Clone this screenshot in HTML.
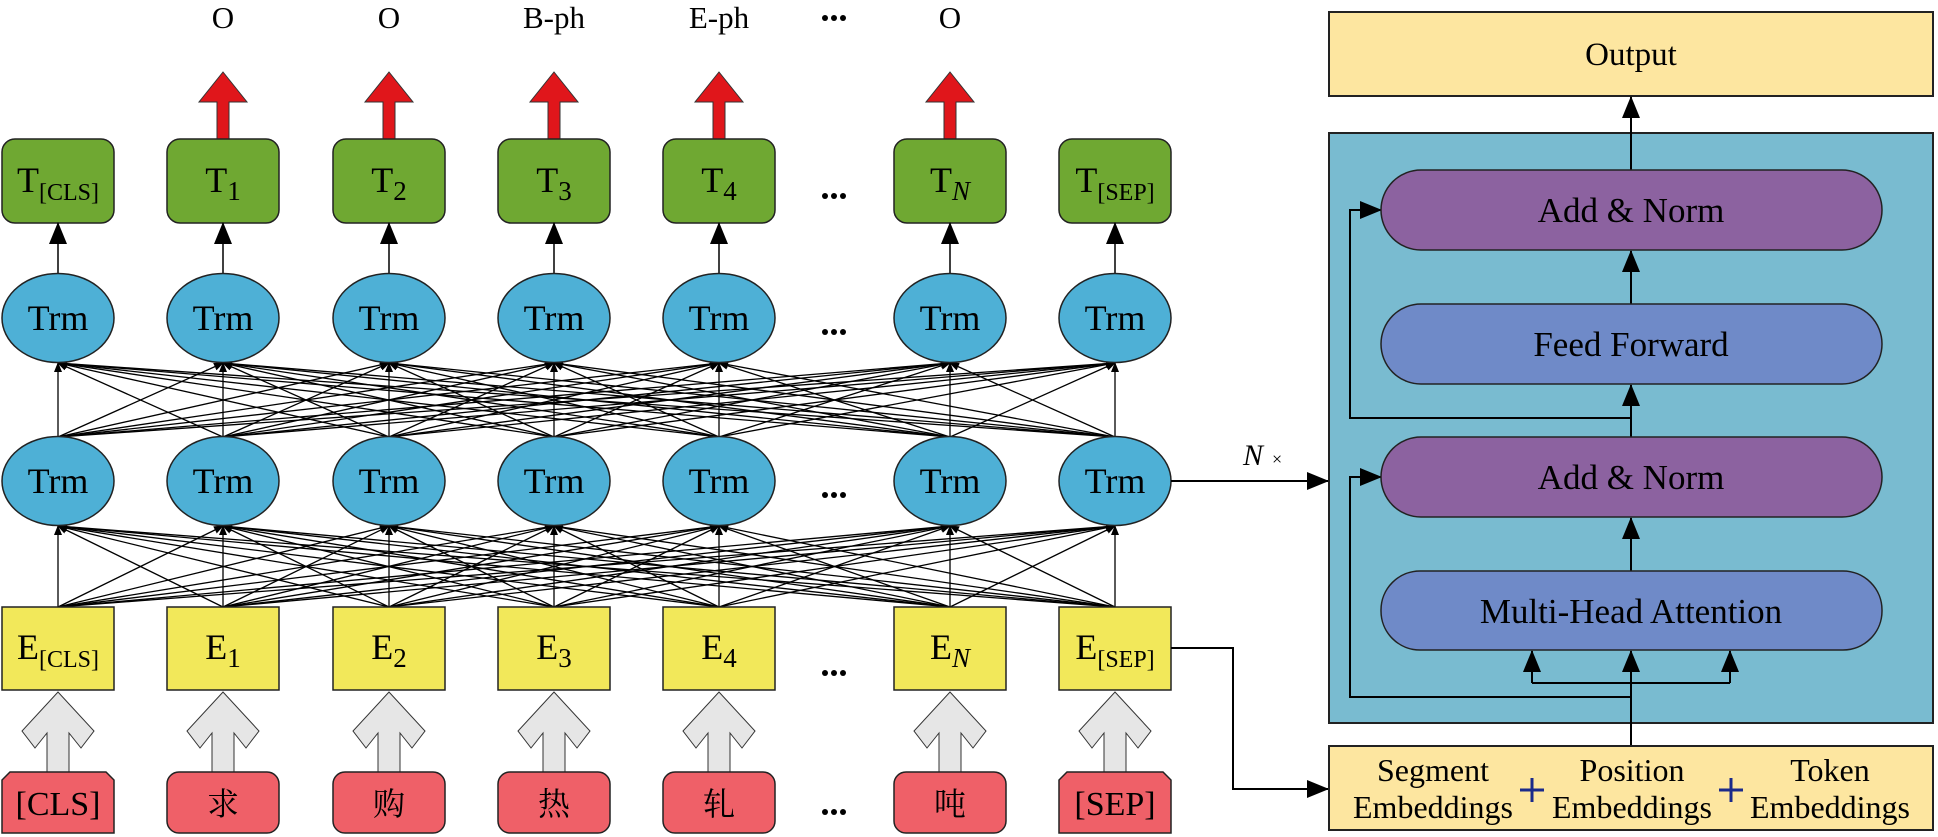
<!DOCTYPE html>
<html><head><meta charset="utf-8"><style>
html,body{margin:0;padding:0;background:#fff;}
svg{display:block;font-family:"Liberation Serif","Noto Serif CJK SC",serif;}
</style></head><body>
<svg id="s" width="1938" height="837" viewBox="0 0 1938 837" xmlns="http://www.w3.org/2000/svg">
<defs>
<marker id="ah" markerWidth="10" markerHeight="10" refX="9" refY="5" orient="auto" markerUnits="userSpaceOnUse"><path d="M0,1 L10,5 L0,9 z" fill="#000"/></marker>
<marker id="ab" markerWidth="22" markerHeight="18" refX="21" refY="9" orient="auto" markerUnits="userSpaceOnUse"><path d="M0,0 L22,9 L0,18 z" fill="#000"/></marker>
</defs>
<g id="lines" stroke="#000" stroke-width="1.3" fill="none"></g>
<g id="nodes"></g>

<rect x="1329" y="12" width="604" height="84" fill="#fde6a0" stroke="#222" stroke-width="2"/>
<text x="1631" y="65" font-size="33" text-anchor="middle">Output</text>
<rect x="1329" y="133" width="604" height="590" fill="#79bbd0" stroke="#222" stroke-width="2"/>
<g stroke="#000" stroke-width="2" fill="none">
<line x1="1631" y1="170" x2="1631" y2="97" marker-end="url(#ab)"/>
<line x1="1631" y1="304" x2="1631" y2="251" marker-end="url(#ab)"/>
<line x1="1631" y1="437" x2="1631" y2="385" marker-end="url(#ab)"/>
<line x1="1631" y1="571" x2="1631" y2="518" marker-end="url(#ab)"/>
<line x1="1631" y1="746" x2="1631" y2="651" marker-end="url(#ab)"/>
<polyline points="1631,418 1350,418 1350,210 1381,210" marker-end="url(#ab)"/>
<polyline points="1631,697 1350,697 1350,477 1381,477" marker-end="url(#ab)"/>
<polyline points="1532,683 1730,683"/>
<line x1="1532" y1="683" x2="1532" y2="651" marker-end="url(#ab)"/>
<line x1="1730" y1="683" x2="1730" y2="651" marker-end="url(#ab)"/>
<line x1="1171" y1="481" x2="1328" y2="481" marker-end="url(#ab)"/>
<polyline points="1171,648 1233,648 1233,789 1328,789" marker-end="url(#ab)"/>
</g>
<rect x="1381" y="170" width="501" height="80" rx="40" fill="#8c62a0" stroke="#222" stroke-width="1.5"/>
<text x="1631" y="222" font-size="35" text-anchor="middle">Add &amp; Norm</text>
<rect x="1381" y="304" width="501" height="80" rx="40" fill="#6f8ac8" stroke="#222" stroke-width="1.5"/>
<text x="1631" y="356" font-size="35" text-anchor="middle">Feed Forward</text>
<rect x="1381" y="437" width="501" height="80" rx="40" fill="#8c62a0" stroke="#222" stroke-width="1.5"/>
<text x="1631" y="489" font-size="35" text-anchor="middle">Add &amp; Norm</text>
<rect x="1381" y="571" width="501" height="79" rx="39" fill="#6f8ac8" stroke="#222" stroke-width="1.5"/>
<text x="1631" y="623" font-size="35" text-anchor="middle">Multi-Head Attention</text>
<text x="1243" y="465" font-size="30" font-style="italic">N</text>
<text x="1272" y="465" font-size="18">×</text>
<rect x="1329" y="746" width="604" height="84" fill="#fde6a0" stroke="#222" stroke-width="2"/>
<g font-size="32" text-anchor="middle">
<text x="1433" y="781">Segment</text><text x="1433" y="818">Embeddings</text>
<text x="1632" y="781">Position</text><text x="1632" y="818">Embeddings</text>
<text x="1830" y="781">Token</text><text x="1830" y="818">Embeddings</text>
</g>
<g stroke="#1a2a8a" stroke-width="3"><line x1="1520" y1="790" x2="1544" y2="790"/><line x1="1532" y1="778" x2="1532" y2="802"/>
<line x1="1719" y1="790" x2="1743" y2="790"/><line x1="1731" y1="778" x2="1731" y2="802"/></g>
</svg>
<script>
(function(){
var S="http://www.w3.org/2000/svg";
var L=document.getElementById('lines'),N=document.getElementById('nodes');
function el(p,t,a,txt){var e=document.createElementNS(S,t);for(var k in a)e.setAttribute(k,a[k]);if(txt!==undefined)e.textContent=txt;p.appendChild(e);return e;}
function sublabel(p,x,y,main,s){
 var t=el(p,'text',{x:x,y:y,'font-size':36,'text-anchor':'middle'});
 t.appendChild(document.createTextNode(main));
 var ts=el(t,'tspan',{'font-size':s.length>2?24:27,dy:8},s);
 if(s==='N')ts.setAttribute('font-style','italic');
}
var xs=[58,223,389,554,719,950,1115];
for(var i=0;i<xs.length;i++)for(var j=0;j<xs.length;j++){
 el(L,'line',{x1:xs[i],y1:607,x2:xs[j],y2:526,'marker-end':'url(#ah)'});
 el(L,'line',{x1:xs[i],y1:437,x2:xs[j],y2:363,'marker-end':'url(#ah)'});
}
var labs=['','O','O','B-ph','E-ph','O',''];
var sub=['[CLS]','1','2','3','4','N','[SEP]'];
var tok=['[CLS]','求','购','热','轧','吨','[SEP]'];
xs.forEach(function(x,i){
 if(labs[i])el(N,'text',{x:x,y:28,'font-size':31,'text-anchor':'middle'},labs[i]);
 if(i>0&&i<6){
  el(N,'polygon',{points:(x-6)+',139 '+(x-6)+',102 '+(x-24)+',102 '+x+',72 '+(x+24)+',102 '+(x+6)+',102 '+(x+6)+',139',fill:'#e0161b',stroke:'#333','stroke-width':1});
 }
 el(N,'rect',{x:x-56,y:139,width:112,height:84,rx:13,fill:'#6fa832',stroke:'#222','stroke-width':1.5});
 sublabel(N,x,192,'T',sub[i]);
 el(N,'line',{x1:x,y1:274,x2:x,y2:223,stroke:'#000','stroke-width':1.5,'marker-end':'url(#ab)'});
 [318,481].forEach(function(cy){
  el(N,'ellipse',{cx:x,cy:cy,rx:56,ry:44.5,fill:'#4eb0d6',stroke:'#222','stroke-width':1.5});
  el(N,'text',{x:x,y:cy+12,'font-size':36,'text-anchor':'middle'},'Trm');
 });
 el(N,'rect',{x:x-56,y:607,width:112,height:83,fill:'#f2e85a',stroke:'#222','stroke-width':1.5});
 sublabel(N,x,659,'E',sub[i]);
 el(N,'polygon',{points:(x-11)+',772 '+(x-11)+',733 '+(x-23)+',748 '+(x-36)+',731 '+x+',692 '+(x+36)+',731 '+(x+23)+',748 '+(x+11)+',733 '+(x+11)+',772',fill:'#e6e6e6',stroke:'#333','stroke-width':1});
 if(i==0||i==6){
  el(N,'polygon',{points:(x-48)+',772 '+(x+48)+',772 '+(x+56)+',780 '+(x+56)+',833 '+(x-56)+',833 '+(x-56)+',780',fill:'#ef6068',stroke:'#222','stroke-width':1.5});
 } else el(N,'rect',{x:x-56,y:772,width:112,height:61,rx:12,fill:'#ef6068',stroke:'#222','stroke-width':1.5});
 el(N,'text',{x:x,y:815,'font-size':(i==0||i==6)?34:32,'text-anchor':'middle'},tok[i]);
});
[18,196,332,495,673,812].forEach(function(y){
 [-9,0,9].forEach(function(dx){el(N,'circle',{cx:834+dx,cy:y,r:3,fill:'#000'});});
});
})();
</script>
</body></html>
